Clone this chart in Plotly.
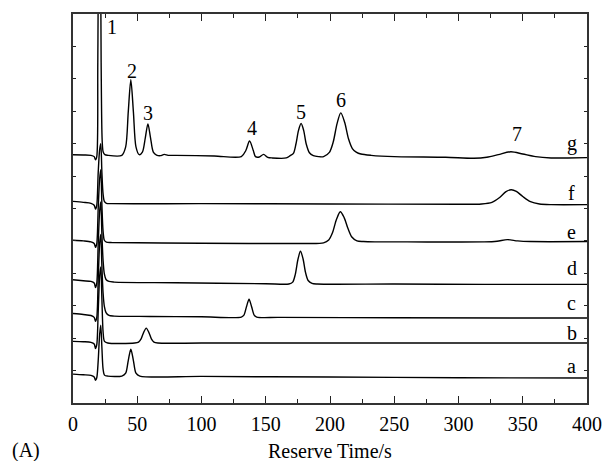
import plotly.graph_objects as go

# ---- data (time in s, stacked signal in plot units) ----
t_a = [0, 8, 14, 16.5, 17.5, 18.5, 19.6, 20.7, 21.6, 22.5, 23.4, 24.5, 27, 38, 41, 43, 45, 47, 49, 52, 100, 200, 300, 400]
y_a = [0.89, 0.87, 0.85, 0.80, 0.70, 0.78, 1.3, 2.1, 2.4, 1.7, 1.05, 0.86, 0.83, 0.83, 0.92, 1.31, 1.66, 1.31, 0.92, 0.83, 0.82, 0.80, 0.78, 0.77]

t_b = [0, 8, 14, 16.5, 17.5, 18.5, 19.6, 20.7, 21.6, 22.5, 23.4, 24.5, 27, 48, 51, 53, 55, 57, 59, 61, 63, 66, 100, 200, 300, 400]
y_b = [1.90, 1.89, 1.87, 1.82, 1.68, 1.80, 2.8, 3.9, 4.2, 3.2, 2.2, 1.9, 1.85, 1.85, 1.88, 1.98, 2.18, 2.31, 2.18, 1.98, 1.88, 1.85, 1.85, 1.85, 1.85, 1.85]

t_c = [0, 8, 14, 16.5, 17.5, 18.5, 19.6, 20.7, 21.6, 22.5, 23.4, 24.4, 25.7, 28, 32, 60, 100, 131, 133, 135, 137, 139, 141, 143, 160, 250, 400]
y_c = [2.76, 2.73, 2.70, 2.64, 2.52, 2.64, 3.8, 4.9, 5.2, 4.2, 3.4, 2.98, 2.79, 2.70, 2.68, 2.67, 2.66, 2.65, 2.71, 2.97, 3.2, 2.97, 2.71, 2.65, 2.64, 2.63, 2.62]

t_d = [0, 8, 14, 16.5, 17.5, 18.5, 19.6, 20.7, 21.6, 22.5, 23.4, 24.4, 25.7, 28, 32, 80, 150, 168, 171, 173, 175, 177, 179, 181, 183, 186, 190, 250, 320, 400]
y_d = [3.80, 3.77, 3.75, 3.70, 3.56, 3.70, 4.9, 5.9, 6.2, 5.2, 4.4, 3.98, 3.81, 3.75, 3.73, 3.71, 3.68, 3.67, 3.73, 3.97, 4.42, 4.68, 4.45, 4.02, 3.78, 3.69, 3.67, 3.67, 3.66, 3.66]

t_e = [0, 8, 14, 16.5, 17.5, 18.5, 19.6, 20.7, 21.6, 22.5, 23.4, 24.4, 26, 30, 100, 180, 195, 199, 202, 205, 208, 211, 214, 217, 221, 226, 235, 260, 320, 330, 338, 346, 356, 400]
y_e = [5.02, 5.0, 4.97, 4.92, 4.80, 4.92, 6.0, 6.9, 7.2, 6.1, 5.3, 5.02, 4.96, 4.95, 4.93, 4.92, 4.94, 5.03, 5.26, 5.66, 5.9, 5.72, 5.38, 5.12, 5.0, 4.98, 4.97, 4.97, 4.97, 4.99, 5.04, 5.0, 4.98, 4.98]

t_f = [0, 8, 14, 16.5, 17.5, 18.5, 19.6, 20.7, 21.6, 22.5, 23.4, 24.4, 26, 30, 100, 200, 300, 318, 326, 332, 337, 341, 345, 350, 356, 363, 372, 400]
y_f = [6.22, 6.19, 6.16, 6.10, 5.98, 6.10, 7.1, 7.8, 8.0, 7.1, 6.45, 6.22, 6.16, 6.15, 6.15, 6.14, 6.13, 6.14, 6.19, 6.34, 6.52, 6.58, 6.53, 6.37, 6.21, 6.14, 6.12, 6.12]

t_g = [0, 8, 14, 16.5, 17.5, 18.5, 19.3, 20.6, 21.9, 22.7, 23.5, 24.8, 27, 38, 41, 43, 45, 47, 49, 51.5,
       54, 56.3, 58.3, 60.3, 62.5, 65, 68, 71, 74, 80, 110, 131, 134.5, 137.4, 140.3, 142, 145, 148.3, 151.5, 155,
       166, 169, 171.5, 173.5, 175.5, 177.5, 179.5, 181.5, 184, 187, 191, 195, 199.5, 202.5, 205.5, 208.4, 211.4,
       214.4, 217.4, 220.4, 224, 232, 250, 290, 312, 322, 331, 340.7, 350, 360, 372, 385, 400]
y_g = [7.66, 7.65, 7.64, 7.60, 7.50, 7.60, 10.5, 20.0, 10.5, 8.1, 7.74, 7.66, 7.64, 7.64, 7.90, 8.98, 9.97, 8.98, 7.90, 7.66,
       7.74, 8.19, 8.61, 8.19, 7.74, 7.65, 7.63, 7.67, 7.64, 7.64, 7.62, 7.60, 7.79, 8.08, 7.79, 7.60, 7.59, 7.67, 7.58, 7.56,
       7.56, 7.63, 7.70, 7.99, 8.41, 8.62, 8.41, 7.99, 7.72, 7.63, 7.60, 7.60, 7.73, 8.05, 8.62, 8.95, 8.66,
       8.15, 7.85, 7.74, 7.68, 7.64, 7.60, 7.58, 7.55, 7.58, 7.66, 7.75, 7.68, 7.60, 7.56, 7.56, 7.57]

trace_names = ["a", "b", "c", "d", "e", "f", "g"]
trace_label_y = [1.14, 2.15, 3.08, 4.15, 5.29, 6.49, 8.0]
trace_label_x = 388

peak_labels = ["1", "2", "3", "4", "5", "6", "7"]
peak_label_x = [30.2, 46.1, 58.0, 139.2, 177.4, 208.4, 345.2]
peak_label_y = [11.6, 10.24, 8.95, 8.49, 8.98, 9.34, 8.31]

x_ticks = [0, 50, 100, 150, 200, 250, 300, 350, 400]

FONT = "Liberation Serif, Times New Roman, serif"
FS = 20

fig = go.Figure()
series = [(t_a, y_a), (t_b, y_b), (t_c, y_c), (t_d, y_d), (t_e, y_e), (t_f, y_f), (t_g, y_g)]
for name, (tx, ty) in zip(trace_names, series):
    fig.add_trace(go.Scatter(x=tx, y=ty, mode="lines", name=name,
                             line=dict(color="black", width=1.4, shape="spline", smoothing=0.8),
                             showlegend=False, hoverinfo="skip"))

for name, ly in zip(trace_names, trace_label_y):
    fig.add_annotation(x=trace_label_x, y=ly, text=name, showarrow=False,
                       font=dict(family=FONT, size=FS, color="black"))
for lab, lx, ly in zip(peak_labels, peak_label_x, peak_label_y):
    fig.add_annotation(x=lx, y=ly, text=lab, showarrow=False,
                       font=dict(family=FONT, size=FS, color="black"))

fig.add_annotation(xref="paper", yref="paper", x=0.5, y=-0.123, xanchor="center", yanchor="middle",
                   text="Reserve Time/s", showarrow=False, font=dict(family=FONT, size=FS, color="black"))
fig.add_annotation(xref="paper", yref="paper", x=-0.0915, y=-0.123, xanchor="center", yanchor="middle",
                   text="(A)", showarrow=False, font=dict(family=FONT, size=FS, color="black"))

fig.update_layout(
    width=614, height=461,
    margin=dict(l=73, r=17, t=12, b=58),
    plot_bgcolor="white", paper_bgcolor="white",
    font=dict(family=FONT, size=FS, color="black"),
)
fig.update_xaxes(range=[0, 400], tickvals=x_ticks, ticks="inside", ticklen=7, tickwidth=1.2,
                 tickcolor="#222", showline=True, linecolor="#333", linewidth=1.5, mirror="allticks",
                 showgrid=False, zeroline=False, ticklabelstandoff=2,
                 tickfont=dict(family=FONT, size=FS, color="black"),
                 minor=dict(dtick=25, ticks="inside", ticklen=4, tickcolor="#222", showgrid=False))
fig.update_yaxes(range=[0, 12], dtick=1, ticks="inside", ticklen=3, tickwidth=1.2, tickcolor="#222",
                 showticklabels=False, showline=True, linecolor="#333", linewidth=1.5, mirror="allticks",
                 showgrid=False, zeroline=False)

fig.write_html("out.html")
